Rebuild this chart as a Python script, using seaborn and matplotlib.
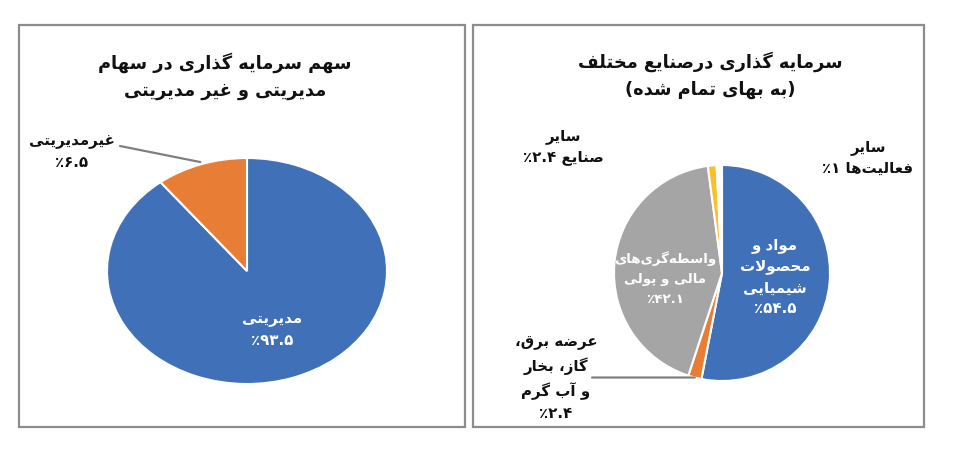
import re
import numpy as np
import matplotlib
matplotlib.use("Agg")
import matplotlib.pyplot as plt
import seaborn as sns
from matplotlib.patches import Rectangle

## Data (logical Persian text, shaped for display below)
left_title = "سهم سرمایه گذاری در سهام\nمدیریتی و غیر مدیریتی"
left_names = ["مدیریتی", "غیرمدیریتی"]
left_pct = ["۹۳.۵٪", "۶.۵٪"]
left_shares = [89.4, 10.6]          # wedge sizes as drawn in the picture
left_colors = ["#3F70B8", "#E87E35"]

right_title = "سرمایه گذاری درصنایع مختلف\n(به بهای تمام شده)"
right_names = ["مواد و\nمحصولات\nشیمیایی", "عرضه برق،\nگاز، بخار\nو آب گرم",
               "واسطه‌گری‌های\nمالی و پولی", "سایر\nصنایع", "سایر\nفعالیت‌ها"]
right_pct = ["۵۴.۵٪", "۲.۴٪", "۴۲.۱٪", "۲.۴٪", "۱٪"]
right_sep = ["\n", "\n", "\n", " ", " "]
right_shares = [53.0, 2.0, 42.8, 1.3, 0.8]
right_colors = ["#3F70B8", "#E87E35", "#A5A5A5", "#FBBF2A", "#FFFFFF"]

## simple arabic/persian shaping + rtl ordering (matplotlib has no bidi)
FORMS = {
    'ا': ('\uFE8D', '\uFE8E', None, None), 'آ': ('\uFE81', '\uFE82', None, None),
    'ب': ('\uFE8F', '\uFE90', '\uFE91', '\uFE92'), 'پ': ('\uFB56', '\uFB57', '\uFB58', '\uFB59'),
    'ت': ('\uFE95', '\uFE96', '\uFE97', '\uFE98'), 'ح': ('\uFEA1', '\uFEA2', '\uFEA3', '\uFEA4'),
    'خ': ('\uFEA5', '\uFEA6', '\uFEA7', '\uFEA8'), 'د': ('\uFEA9', '\uFEAA', None, None),
    'ذ': ('\uFEAB', '\uFEAC', None, None), 'ر': ('\uFEAD', '\uFEAE', None, None),
    'ز': ('\uFEAF', '\uFEB0', None, None), 'س': ('\uFEB1', '\uFEB2', '\uFEB3', '\uFEB4'),
    'ش': ('\uFEB5', '\uFEB6', '\uFEB7', '\uFEB8'), 'ص': ('\uFEB9', '\uFEBA', '\uFEBB', '\uFEBC'),
    'ض': ('\uFEBD', '\uFEBE', '\uFEBF', '\uFEC0'),
    'ط': ('\uFEC1', '\uFEC2', '\uFEC3', '\uFEC4'), 'ع': ('\uFEC9', '\uFECA', '\uFECB', '\uFECC'),
    'غ': ('\uFECD', '\uFECE', '\uFECF', '\uFED0'), 'ف': ('\uFED1', '\uFED2', '\uFED3', '\uFED4'),
    'ق': ('\uFED5', '\uFED6', '\uFED7', '\uFED8'), 'گ': ('\uFB92', '\uFB93', '\uFB94', '\uFB95'),
    'ل': ('\uFEDD', '\uFEDE', '\uFEDF', '\uFEE0'), 'م': ('\uFEE1', '\uFEE2', '\uFEE3', '\uFEE4'),
    'ن': ('\uFEE5', '\uFEE6', '\uFEE7', '\uFEE8'), 'ه': ('\uFEE9', '\uFEEA', '\uFEEB', '\uFEEC'),
    'و': ('\uFEED', '\uFEEE', None, None), 'ی': ('\uFBFC', '\uFBFD', '\uFBFE', '\uFBFF'),
}
LAM_ALEF = {'ا': ('\uFEFB', '\uFEFC'), 'آ': ('\uFEF5', '\uFEF6')}
MIRROR = {'(': ')', ')': '('}


def dual(c):
    return c in FORMS and FORMS[c][2] is not None


def shape(text):
    out = []
    i = 0
    while i < len(text):
        c = text[i]
        if c not in FORMS:
            if c != '\u200c':
                out.append(c)
            i += 1
            continue
        jp = i > 0 and dual(text[i - 1])
        if c == 'ل' and i + 1 < len(text) and text[i + 1] in LAM_ALEF:
            iso, fin = LAM_ALEF[text[i + 1]]
            out.append(fin if jp else iso)
            i += 2
            continue
        nxt = text[i + 1] if i + 1 < len(text) else ''
        jn = dual(c) and nxt in FORMS
        iso, fin, ini, med = FORMS[c]
        out.append(med if (jp and jn) else fin if jp else ini if jn else iso)
        i += 1
    return "".join(out)


def rtl(s):
    lines = []
    for line in s.split("\n"):
        toks = re.findall(r"[۰-۹.]+|[^۰-۹.]+", shape(line))
        disp = ""
        for t in reversed(toks):
            if re.fullmatch(r"[۰-۹.]+", t):
                disp += t
            else:
                disp += "".join(MIRROR.get(ch, ch) for ch in t[::-1])
        lines.append(disp)
    return "\n".join(lines)


sns.set_theme(style="white")
plt.rcParams['font.family'] = ['DejaVu Sans']

W, H = 956, 456
fig = plt.figure(figsize=(W / 100, H / 100), dpi=100)
fig.patch.set_facecolor("white")


def fx(x):
    return x / W


def fy(y):
    return 1 - y / H


def pie_axes(cx, cy, rx, ry):
    a = fig.add_axes([fx(cx - rx), fy(cy + ry), 2 * rx / W, 2 * ry / H])
    return a


## frames
for x0, x1 in [(19, 465), (473, 924)]:
    fig.add_artist(Rectangle((fx(x0), fy(428)), fx(x1) - fx(x0), fy(26) - fy(428),
                             transform=fig.transFigure, fill=False,
                             edgecolor="#8C8C8C", linewidth=1.6))

title_kw = dict(ha="center", va="center", fontsize=12.8, fontweight="bold",
                color="#111111", linespacing=1.6)
fig.text(fx(225), fy(76), rtl(left_title), **title_kw)
fig.text(fx(710), fy(75), rtl(right_title), **title_kw)

line_kw = dict(arrowstyle="-", color="#808080", lw=1.6, shrinkA=0, shrinkB=0)
out_kw = dict(ha="center", va="center", fontsize=10.8, fontweight="bold",
              color="#111111", linespacing=1.5)
in_kw = dict(ha="center", va="center", fontsize=10.8, fontweight="bold",
             color="white", linespacing=1.5)

## left pie (drawn as an ellipse like the reference)
ax1 = pie_axes(247, 272, 140, 113)
w1, _ = ax1.pie(left_shares, colors=left_colors, startangle=90, counterclock=False,
                wedgeprops=dict(edgecolor="white", linewidth=1.5))
ax1.set_aspect("auto")
ax1.set_xlim(-1, 1)
ax1.set_ylim(-1, 1)
ax1.axis("off")


def mid(w, r=1.0):
    t = np.deg2rad((w.theta1 + w.theta2) / 2)
    return r * np.cos(t), r * np.sin(t)


fig.text(fx(272), fy(330), rtl(left_names[0] + "\n" + left_pct[0]), **in_kw)
fig.text(fx(72), fy(152), rtl(left_names[1] + "\n" + left_pct[1]), **out_kw)
ax1.annotate("", xy=mid(w1[1], 1.02), xytext=(fx(120), fy(147)),
             textcoords="figure fraction", arrowprops=line_kw)

## right pie
ax2 = pie_axes(722, 274, 108, 108)
w2, _ = ax2.pie(right_shares, colors=right_colors, startangle=90, counterclock=False,
                wedgeprops=dict(edgecolor="white", linewidth=1.5))
ax2.set_aspect("auto")
ax2.set_xlim(-1, 1)
ax2.set_ylim(-1, 1)
ax2.axis("off")

labels = [n + s + p for n, s, p in zip(right_names, right_sep, right_pct)]
fig.text(fx(775), fy(277), rtl(labels[0]), **in_kw)
fig.text(fx(665), fy(279), rtl(labels[2]), **{**in_kw, "fontsize": 9.6, "linespacing": 1.7})
fig.text(fx(556), fy(378), rtl(labels[1]), **out_kw)
fig.text(fx(563), fy(147), rtl(labels[3]), **out_kw)
fig.text(fx(868), fy(158), rtl(labels[4]), **out_kw)

oy = mid(w2[1])[1]
ax2.annotate("", xy=mid(w2[1]), xytext=((592 - 722) / 108, oy),
             textcoords="data", arrowprops=line_kw)
ax2.annotate("", xy=mid(w2[3], 1.01), xytext=(fx(600), fy(147)),
             textcoords="figure fraction", arrowprops=line_kw)
ax2.annotate("", xy=mid(w2[4], 1.01), xytext=(fx(822), fy(156)),
             textcoords="figure fraction", arrowprops=line_kw)

fig.savefig("out.png", dpi=100, facecolor="white")
